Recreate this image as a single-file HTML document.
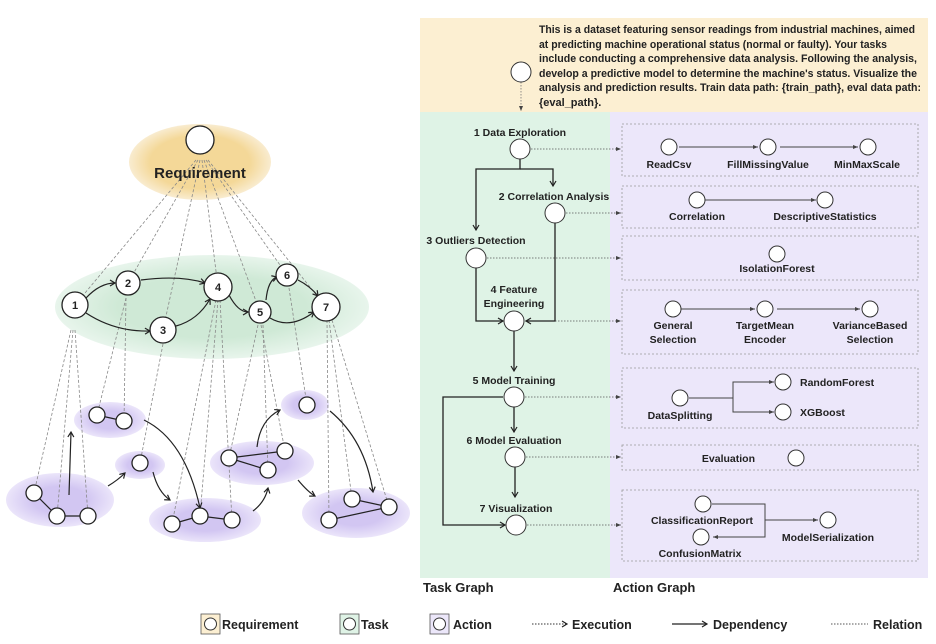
<!DOCTYPE html>
<html><head><meta charset="utf-8"><style>
body{margin:0;background:#fff}
svg{display:block;font-family:"Liberation Sans",sans-serif}
.b{font-weight:bold;fill:#222}
</style></head><body>
<svg width="936" height="644" viewBox="0 0 936 644" xmlns="http://www.w3.org/2000/svg">
<defs>
<marker id="a" markerWidth="8" markerHeight="8" refX="6" refY="4" orient="auto" markerUnits="userSpaceOnUse"><path d="M1,1 L6,4 L1,7" fill="none" stroke="#222" stroke-width="1.2"/></marker>
<marker id="s" markerWidth="6" markerHeight="6" refX="5" refY="3" orient="auto" markerUnits="userSpaceOnUse"><path d="M0,1 L5,3 L0,5 Z" fill="#444"/></marker>
<radialGradient id="go"><stop offset="0.7" stop-color="#f4d898"/><stop offset="1" stop-color="#f9ecd0"/></radialGradient>
<radialGradient id="gg"><stop offset="0.6" stop-color="#cfe9d6"/><stop offset="1" stop-color="#e8f5ec"/></radialGradient>
<radialGradient id="gp"><stop offset="0.5" stop-color="#d2c6f2"/><stop offset="1" stop-color="#ebe5fa"/></radialGradient>
</defs>

<ellipse cx="200" cy="162" rx="71" ry="38" fill="url(#go)"/>
<ellipse cx="212" cy="307" rx="157" ry="52" fill="url(#gg)"/>
<g fill="url(#gp)">
<ellipse cx="60" cy="500" rx="54" ry="27"/>
<ellipse cx="110" cy="420" rx="36" ry="18"/>
<ellipse cx="140" cy="465" rx="25" ry="14"/>
<ellipse cx="205" cy="520" rx="56" ry="22"/>
<ellipse cx="262" cy="463" rx="52" ry="22"/>
<ellipse cx="305" cy="405" rx="24" ry="15"/>
<ellipse cx="356" cy="513" rx="54" ry="25"/>
</g>
<g stroke="#888" stroke-width="0.8" stroke-dasharray="3,2" fill="none">
<line x1="196" y1="160" x2="75" y2="305"/><line x1="198" y1="160" x2="128" y2="283"/>
<line x1="200" y1="160" x2="163" y2="330"/><line x1="202" y1="160" x2="218" y2="287"/>
<line x1="204" y1="160" x2="260" y2="312"/><line x1="206" y1="160" x2="287" y2="275"/>
<line x1="208" y1="160" x2="326" y2="307"/>
<line x1="71" y1="330" x2="34" y2="493"/><line x1="73" y1="330" x2="57" y2="516"/>
<line x1="75" y1="330" x2="88" y2="516"/><line x1="126" y1="298" x2="97" y2="415"/>
<line x1="126" y1="298" x2="124" y2="421"/><line x1="163" y1="344" x2="140" y2="463"/>
<line x1="216" y1="300" x2="172" y2="524"/><line x1="218" y1="300" x2="200" y2="516"/>
<line x1="220" y1="300" x2="232" y2="520"/><line x1="258" y1="325" x2="229" y2="458"/>
<line x1="261" y1="325" x2="285" y2="451"/><line x1="263" y1="325" x2="268" y2="470"/>
<line x1="289" y1="288" x2="307" y2="405"/><line x1="327" y1="320" x2="329" y2="520"/>
<line x1="329" y1="320" x2="352" y2="499"/><line x1="332" y1="320" x2="389" y2="507"/>
</g>
<g stroke="#222" stroke-width="1.2" fill="none" marker-end="url(#a)">
<path d="M86,298 Q100,283 115,283"/><path d="M86,313 Q115,332 150,331"/>
<path d="M141,280 Q180,275 205,283"/><path d="M176,326 Q198,320 210,299"/>
<path d="M229,295 Q238,312 248,312"/><path d="M266,300 Q268,280 277,277"/>
<path d="M298,280 Q310,286 318,296"/><path d="M270,318 Q290,330 314,312"/>
<path d="M69,495 L71,432"/><path d="M108,486 Q118,480 125,473"/>
<path d="M144,420 Q185,440 200,508"/><path d="M153,472 Q158,492 170,500"/>
<path d="M253,511 Q265,502 268,488"/><path d="M257,447 Q260,420 280,410"/>
<path d="M330,411 Q365,440 373,492"/><path d="M298,480 Q308,492 315,496"/>
</g>
<g stroke="#222" stroke-width="1.2">
<line x1="34" y1="493" x2="57" y2="516"/><line x1="57" y1="516" x2="88" y2="516"/>
<line x1="97" y1="415" x2="124" y2="421"/>
<line x1="172" y1="524" x2="200" y2="516"/><line x1="200" y1="516" x2="232" y2="520"/>
<line x1="229" y1="458" x2="285" y2="451"/><line x1="229" y1="458" x2="268" y2="470"/>
<line x1="352" y1="499" x2="389" y2="507"/><line x1="329" y1="520" x2="389" y2="507"/>
</g>
<g fill="#fff" stroke="#222" stroke-width="1.3">
<circle cx="200" cy="140" r="14"/>
<circle cx="75" cy="305" r="13"/><circle cx="128" cy="283" r="12"/><circle cx="163" cy="330" r="13"/>
<circle cx="218" cy="287" r="14"/><circle cx="260" cy="312" r="11"/><circle cx="287" cy="275" r="11"/><circle cx="326" cy="307" r="14"/>
<circle cx="34" cy="493" r="8"/><circle cx="57" cy="516" r="8"/><circle cx="88" cy="516" r="8"/>
<circle cx="97" cy="415" r="8"/><circle cx="124" cy="421" r="8"/><circle cx="140" cy="463" r="8"/>
<circle cx="172" cy="524" r="8"/><circle cx="200" cy="516" r="8"/><circle cx="232" cy="520" r="8"/>
<circle cx="229" cy="458" r="8"/><circle cx="285" cy="451" r="8"/><circle cx="268" cy="470" r="8"/>
<circle cx="307" cy="405" r="8"/>
<circle cx="329" cy="520" r="8"/><circle cx="352" cy="499" r="8"/><circle cx="389" cy="507" r="8"/>
</g>
<text x="200" y="178" text-anchor="middle" class="b" font-size="15" fill="#111">Requirement</text>
<g class="b" font-size="11" text-anchor="middle">
<text x="75" y="309">1</text><text x="128" y="287">2</text><text x="163" y="334">3</text><text x="218" y="291">4</text>
<text x="260" y="316">5</text><text x="287" y="279">6</text><text x="326" y="311">7</text>
</g>

<rect x="420" y="18" width="508" height="94" fill="#fcefd2"/>
<rect x="420" y="112" width="190" height="466" fill="#dff3e6"/>
<rect x="610" y="112" width="318" height="466" fill="#ece7fa"/>
<g class="b" font-size="11">
<text x="539" y="33" textLength="376" lengthAdjust="spacingAndGlyphs">This is a dataset featuring sensor readings from industrial machines, aimed</text>
<text x="539" y="48" textLength="348" lengthAdjust="spacingAndGlyphs">at predicting machine operational status (normal or faulty). Your tasks</text>
<text x="539" y="62" textLength="378" lengthAdjust="spacingAndGlyphs">include conducting a comprehensive data analysis. Following the analysis,</text>
<text x="539" y="77" textLength="378" lengthAdjust="spacingAndGlyphs">develop a predictive model to determine the machine's status. Visualize the</text>
<text x="539" y="91" textLength="382" lengthAdjust="spacingAndGlyphs">analysis and prediction results. Train data path: {train_path}, eval data path:</text>
<text x="539" y="106">{eval_path}.</text>
</g>
<line x1="521" y1="82" x2="521" y2="111" stroke="#777" stroke-width="0.8" stroke-dasharray="1.5,1.5" marker-end="url(#s)"/>
<circle cx="521" cy="72" r="10" fill="#fff" stroke="#333" stroke-width="1"/>

<g fill="none" stroke="#999" stroke-width="0.8" stroke-dasharray="2,2">
<rect x="622" y="124" width="296" height="52"/><rect x="622" y="186" width="296" height="42"/>
<rect x="622" y="236" width="296" height="44"/><rect x="622" y="290" width="296" height="64"/>
<rect x="622" y="368" width="296" height="60"/><rect x="622" y="445" width="296" height="25"/>
<rect x="622" y="490" width="296" height="71"/>
</g>
<g stroke="#555" stroke-width="0.8" stroke-dasharray="1.5,1.5" marker-end="url(#s)">
<line x1="531" y1="149" x2="621" y2="149"/><line x1="566" y1="213" x2="621" y2="213"/>
<line x1="487" y1="258" x2="621" y2="258"/><line x1="525" y1="321" x2="621" y2="321"/>
<line x1="525" y1="397" x2="621" y2="397"/><line x1="526" y1="457" x2="621" y2="457"/>
<line x1="527" y1="525" x2="621" y2="525"/>
</g>
<g stroke="#222" stroke-width="1.3" fill="none" marker-end="url(#a)">
<path d="M520,159 V169 H476 V230"/><path d="M520,169 H553 V186"/>
<path d="M476,268 V321 H503"/><path d="M555,223 V321 H526"/>
<path d="M514,331 V371"/><path d="M514,407 V432"/><path d="M515,467 V497"/>
<path d="M503,397 H443 V525 H505"/>
</g>
<g fill="#fff" stroke="#333" stroke-width="1">
<circle cx="520" cy="149" r="10"/><circle cx="555" cy="213" r="10"/><circle cx="476" cy="258" r="10"/>
<circle cx="514" cy="321" r="10"/><circle cx="514" cy="397" r="10"/><circle cx="515" cy="457" r="10"/><circle cx="516" cy="525" r="10"/>
</g>
<g class="b" font-size="10.5" text-anchor="middle">
<text x="520" y="136">1 Data Exploration</text>
<text x="554" y="200">2 Correlation Analysis</text>
<text x="476" y="244">3 Outliers Detection</text>
<text x="514" y="293">4 Feature</text><text x="514" y="307">Engineering</text>
<text x="514" y="384">5 Model Training</text>
<text x="514" y="444">6 Model Evaluation</text>
<text x="516" y="512">7 Visualization</text>
</g>
<g stroke="#444" stroke-width="1" fill="none" marker-end="url(#s)">
<line x1="679" y1="147" x2="758" y2="147"/><line x1="780" y1="147" x2="858" y2="147"/>
<line x1="705" y1="200" x2="816" y2="200"/>
<line x1="681" y1="309" x2="755" y2="309"/><line x1="777" y1="309" x2="860" y2="309"/>
<path d="M689,398 H733 V382 H774"/><path d="M733,398 V412 H774"/>
<path d="M712,504 H765 V537 H713"/><path d="M765,520 H818"/>
</g>
<g fill="#fff" stroke="#333" stroke-width="1">
<circle cx="669" cy="147" r="8"/><circle cx="768" cy="147" r="8"/><circle cx="868" cy="147" r="8"/>
<circle cx="697" cy="200" r="8"/><circle cx="825" cy="200" r="8"/>
<circle cx="777" cy="254" r="8"/>
<circle cx="673" cy="309" r="8"/><circle cx="765" cy="309" r="8"/><circle cx="870" cy="309" r="8"/>
<circle cx="680" cy="398" r="8"/><circle cx="783" cy="382" r="8"/><circle cx="783" cy="412" r="8"/>
<circle cx="796" cy="458" r="8"/>
<circle cx="703" cy="504" r="8"/><circle cx="701" cy="537" r="8"/><circle cx="828" cy="520" r="8"/>
</g>
<g class="b" font-size="10.5" text-anchor="middle">
<text x="669" y="168">ReadCsv</text><text x="768" y="168">FillMissingValue</text><text x="867" y="168">MinMaxScale</text>
<text x="697" y="220">Correlation</text><text x="825" y="220">DescriptiveStatistics</text>
<text x="777" y="272">IsolationForest</text>
<text x="673" y="329">General</text><text x="673" y="343">Selection</text>
<text x="765" y="329">TargetMean</text><text x="765" y="343">Encoder</text>
<text x="870" y="329">VarianceBased</text><text x="870" y="343">Selection</text>
<text x="680" y="419">DataSplitting</text>
<text x="800" y="386" text-anchor="start">RandomForest</text><text x="800" y="416" text-anchor="start">XGBoost</text>
<text x="755" y="462" text-anchor="end">Evaluation</text>
<text x="702" y="524">ClassificationReport</text><text x="700" y="557">ConfusionMatrix</text>
<text x="828" y="541">ModelSerialization</text>
</g>
<text x="423" y="592" class="b" font-size="13">Task Graph</text>
<text x="613" y="592" class="b" font-size="13">Action Graph</text>

<rect x="201" y="614" width="19" height="20" fill="#fcefd2" stroke="#555" stroke-width="0.8"/>
<circle cx="210.5" cy="624" r="6" fill="#fff" stroke="#333"/>
<rect x="340" y="614" width="19" height="20" fill="#dff3e6" stroke="#555" stroke-width="0.8"/>
<circle cx="349.5" cy="624" r="6" fill="#fff" stroke="#333"/>
<rect x="430" y="614" width="19" height="20" fill="#ece7fa" stroke="#555" stroke-width="0.8"/>
<circle cx="439.5" cy="624" r="6" fill="#fff" stroke="#333"/>
<g class="b" font-size="12.5">
<text x="222" y="629">Requirement</text><text x="361" y="629">Task</text><text x="453" y="629">Action</text>
<text x="572" y="629">Execution</text><text x="713" y="629">Dependency</text><text x="873" y="629">Relation</text>
</g>
<line x1="532" y1="624" x2="567" y2="624" stroke="#333" stroke-width="0.9" stroke-dasharray="1.5,1.5" marker-end="url(#a)"/>
<line x1="672" y1="624" x2="707" y2="624" stroke="#222" stroke-width="1.3" marker-end="url(#a)"/>
<line x1="831" y1="624" x2="868" y2="624" stroke="#555" stroke-width="0.9" stroke-dasharray="1.5,1.5"/>
</svg>
</body></html>
